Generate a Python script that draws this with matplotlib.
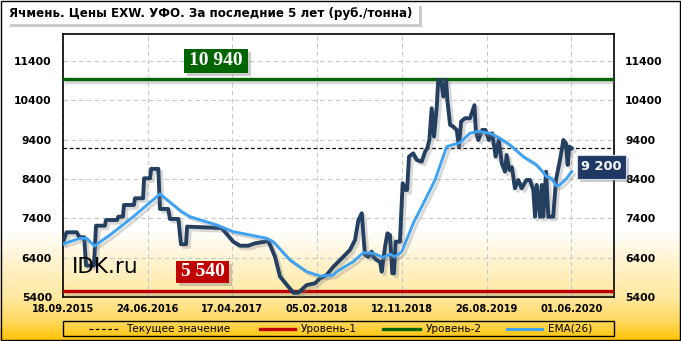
import numpy as np
import matplotlib
matplotlib.use("Agg")
from matplotlib import pyplot as plt
from matplotlib import patheffects as pe
from matplotlib.patches import Rectangle
from matplotlib.lines import Line2D

# --- data (x = point index, one tick label every 40 points) ---
tick_labels = ["18.09.2015", "24.06.2016", "17.04.2017", "05.02.2018",
               "12.11.2018", "26.08.2019", "01.06.2020"]
tick_step = 40
y_ticks = [5400, 6400, 7400, 8400, 9400, 10400, 11400]

price_idx = [0, 1.7, 6.5, 7.7, 10.0, 10.9, 14.6, 15.6, 19.8, 20.3, 25.6, 26.1, 28.3,
             28.8, 33.5, 34.0, 37.8, 38.3, 41.1, 41.6, 45.0, 45.8, 49.7, 50.5, 54.5,
             55.7, 58.1, 58.6, 74.9, 80.4, 83.6, 87.5, 90.7, 97.0, 100.1, 102.5, 106.4,
             108.8, 111.1, 115.1, 119.0, 121.4, 124.5, 127.7, 132.4, 135.5, 137.9, 139.5,
             141.1, 141.8, 142.6, 144.2, 145.8, 146.5, 148.1, 149.7, 150.5, 152.1, 153.2,
             154.4, 155.5, 156.3, 157.1, 159.1, 160.4, 161.8, 162.5, 163.4, 165.4, 167.0,
             169.4, 171.0, 172.0, 173.0, 174.1, 175.2, 176.5, 177.2, 178.5, 179.6, 180.9,
             181.5, 182.8, 184.3, 185.9, 187.0, 188.0, 189.8, 192.2, 194.3, 195.0, 196.1,
             198.0, 199.5, 201.1, 202.7, 204.3, 205.8, 207.2, 208.7, 209.5, 210.8, 212.0,
             213.4, 215.0, 216.6, 218.9, 220.5, 222.1, 222.9, 223.7, 225.3, 226.1, 226.8,
             228.1, 229.2, 231.5, 232.8, 234.7, 236.3, 237.5, 238.3, 239.1, 240.2]
price_val = [6800, 7046, 7046, 6920, 6920, 6200, 6200, 7214, 7214, 7359, 7359, 7443, 7443,
             7741, 7741, 7911, 7911, 8420, 8420, 8660, 8660, 7639, 7639, 7385, 7385,
             6743, 6743, 7190, 7155, 6807, 6705, 6705, 6766, 6825, 6427, 5917, 5662,
             5510, 5510, 5705, 5749, 5875, 5960, 6171, 6425, 6596, 6850, 7359,
             7530, 7020, 6469, 6425, 6553, 6425, 6341, 6298, 6044, 6680, 7020,
             6977, 6002, 6002, 6807, 6807, 8293, 8123, 8123, 8970, 9055, 8886,
             8843, 9098, 9183, 9394, 10201, 9480, 10244, 10922, 10922, 10498, 10922,
             10413, 9777, 9734, 9649, 9225, 9862, 9946, 9946, 10280, 9600, 9394,
             9649, 9649, 9394, 9565, 8970, 9394, 8800, 8588, 9013, 8631, 8700,
             8166, 8377, 8166, 8377, 8377, 8123, 7443, 8251, 7443, 8251, 7443,
             8588, 7443, 7443, 8377, 8886, 9394, 9310, 8759, 9225, 9183]

ema_idx = [0, 8.0, 11.2, 14.8, 22.2, 33.2, 45.8, 56.0, 60.0, 72.6, 80.4, 96.2, 99.3,
           107.2, 115.1, 121.4, 127.7, 129.3, 135.5, 137.1, 141.8, 146.5, 151.3, 154.4,
           156.8, 160.0, 165.4, 171.8, 175.7, 181.2, 187.5, 192.2, 195.4, 196.9, 201.7,
           206.4, 211.1, 217.4, 223.7, 228.4, 230.8, 232.8, 234.7, 237.9, 240.2]
ema_val = [6749, 6893, 6893, 6698, 6977, 7443, 8021, 7570, 7443, 7232, 7062, 6893, 6807,
           6341, 6044, 5934, 5960, 6044, 6250, 6298, 6527, 6511, 6410, 6490,
           6425, 6553, 7274, 7953, 8377, 9225, 9327, 9565, 9607, 9607, 9565,
           9437, 9268, 8970, 8759, 8462, 8420, 8225, 8251, 8420, 8588]

current_value = 9200
level_1 = 5540
level_2 = 10940

W, H = 681, 341
fig = plt.figure(figsize=(W / 100, H / 100), dpi=100)


def fx(px):
    return px / W


def fy(py):
    return 1 - py / H


# background gradient: white on top, orange at the bottom
bg = fig.add_axes([0, 0, 1, 1], zorder=-10)
rows = np.arange(H)
t = np.interp(rows, [230, 263, 297, 320, 341], [0, 0.2, 0.37, 0.62, 1.0])
grad = np.ones((H, 1, 3))
grad[:, 0, 1] = 1 - t * (1 - 0.76)
grad[:, 0, 2] = 1 - t
bg.imshow(grad, aspect="auto", extent=[0, 1, 0, 1])
bg.axis("off")

ax = fig.add_axes([fx(63), fy(297), fx(614) - fx(63), fy(34) - fy(297)])
ax.set_facecolor("none")

shadow = [pe.SimpleLineShadow(offset=(2, -2), shadow_color="gray", alpha=0.3), pe.Normal()]

ax.axhline(level_2, color="#006400", lw=2.4, zorder=3, path_effects=shadow)
ax.axhline(level_1, color="#C00000", lw=2.4, zorder=3, path_effects=shadow)
ax.axhline(current_value, color="black", lw=0.9, ls=(0, (3, 2)), zorder=4)

ax.plot(price_idx, price_val, color="#243F60", lw=2.8, zorder=5,
        solid_joinstyle="round", path_effects=shadow)
ax.plot(ema_idx, ema_val, color="#3FA2F2", lw=2.1, zorder=6,
        solid_joinstyle="round", path_effects=shadow)

ax.set_xlim(0, 260.2)
ax.set_ylim(5400, 12090)
ax.set_xticks([i * tick_step for i in range(len(tick_labels))])
ax.set_xticklabels(tick_labels, fontsize=7.1, fontweight="bold")
ax.set_yticks(y_ticks)
ax.set_yticklabels([str(v) for v in y_ticks], fontsize=7.8, fontweight="bold")
ax.tick_params(axis="y", length=0, pad=8, labelright=True)
ax.tick_params(axis="x", length=0, pad=5)
ax.grid(True, color="#C8C8C8", lw=0.8, ls=(0, (4, 3)))
ax.set_axisbelow(True)
for s in ax.spines.values():
    s.set_linewidth(1.2)
    s.set_color("black")

ax.text(fx(72 - 63) / (fx(614) - fx(63)), 0.115, "IDK.ru", transform=ax.transAxes,
        fontsize=15.5, color="black", ha="left", va="center", zorder=7)


def label_box(x0, y0, x1, y1, text, fc, tc="white", fontsize=14, family="Liberation Serif",
              ec="none"):
    fig.patches.append(Rectangle((fx(x0 + 3), fy(y1 + 3)), fx(x1 - x0), fy(y0) - fy(y1),
                                 transform=fig.transFigure, fc="gray", alpha=0.4,
                                 ec="none", zorder=8))
    fig.patches.append(Rectangle((fx(x0), fy(y1)), fx(x1 - x0), fy(y0) - fy(y1),
                                 transform=fig.transFigure, fc=fc, ec=ec, lw=0.8, zorder=9))
    fig.text(fx((x0 + x1) / 2), fy((y0 + y1) / 2), text, color=tc, fontsize=fontsize,
             fontweight="bold", family=family, ha="center", va="center", zorder=10)


label_box(184, 49, 248, 72.5, "10 940", "#006400")
label_box(176, 261, 229, 283, "5 540", "#C00000")
label_box(577, 155, 626, 179, "9 200", "#1F3864", fontsize=9.3, family="DejaVu Sans",
          ec="#d0d8e8")

# title box
fig.patches.append(Rectangle((fx(10), fy(27)), fx(412), fy(3) - fy(24),
                             transform=fig.transFigure, fc="#999999", alpha=0.5, ec="none"))
fig.patches.append(Rectangle((fx(7), fy(24)), fx(412), fy(3) - fy(24),
                             transform=fig.transFigure, fc="white", ec="none"))
fig.text(fx(9), fy(14), "Ячмень. Цены EXW. УФО. За последние 5 лет (руб./тонна)",
         fontsize=8.6, fontweight="bold", ha="left", va="center")

# legend
fig.patches.append(Rectangle((fx(63), fy(336)), fx(551), fy(321) - fy(336),
                             transform=fig.transFigure, fc="none", ec="black", lw=1))
legend_items = [
    (89, 120, dict(color="black", lw=0.9, ls=(0, (3, 2))), "Текущее значение"),
    (260, 295, dict(color="#C00000", lw=2.4), "Уровень-1"),
    (383, 420, dict(color="#006400", lw=2.4), "Уровень-2"),
    (507, 542, dict(color="#3FA2F2", lw=2.1), "EMA(26)"),
]
for x0, x1, style, label in legend_items:
    fig.lines.append(Line2D([fx(x0), fx(x1)], [fy(328.5), fy(328.5)],
                            transform=fig.transFigure, **style))
    fig.text(fx(x1 + 6), fy(328.5), label, fontsize=7.6, ha="left", va="center")

# outer frame
fig.patches.append(Rectangle((0.001, 0.002), 0.997, 0.996, transform=fig.transFigure,
                             fc="none", ec="black", lw=1))

fig.savefig("out.png", dpi=100)
